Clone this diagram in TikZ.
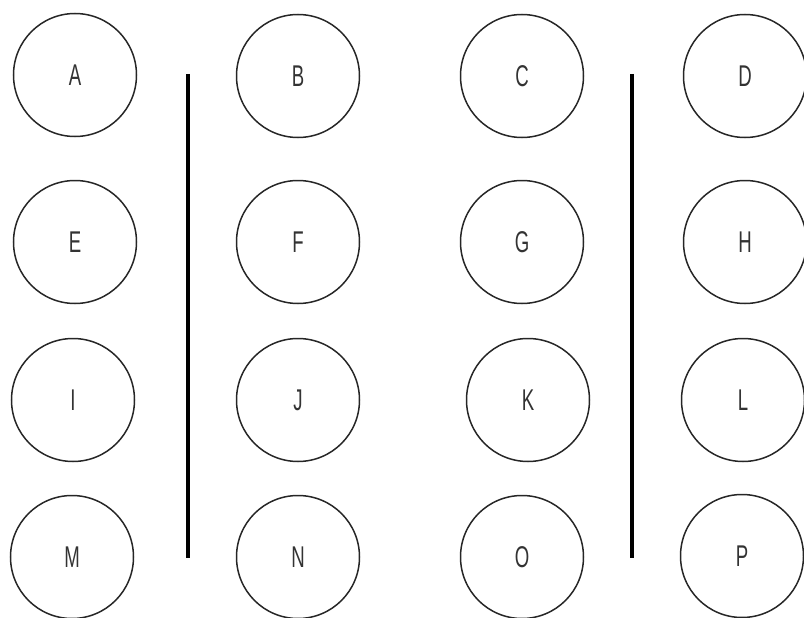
\documentclass[tikz,border=0pt]{standalone}
\usepackage{fontspec}
\usepackage{graphicx}
\setmainfont{Liberation Sans}
\begin{document}
\begin{tikzpicture}[x=1pt,y=-1pt,
  ball/.style={draw=black!85,line width=1.5pt,circle,minimum size=123pt,inner sep=0pt,
    font=\fontsize{30}{30}\selectfont,text=black!80},
  bar/.style={draw=black,line width=4.5pt}]
\useasboundingbox (0,0) rectangle (804,618);
\foreach \name/\x/\y in {A/75/75,B/298/76,C/522/76,D/745/76,
  E/75/242,F/298/242,G/522/242,H/745/242,
  I/73/400,J/298/400,K/528/400,L/743/400,
  M/72/557,N/298/557,O/522/557,P/742/556}
  \node[ball] (\name) at (\x,\y) {\scalebox{0.62}[1]{\name}};
\coordinate (b1t) at (188,74); \coordinate (b1b) at (188,558);
\coordinate (b2t) at (632,74); \coordinate (b2b) at (632,558);
\draw[bar] (b1t) -- (b1b);
\draw[bar] (b2t) -- (b2b);
\end{tikzpicture}
\end{document}
